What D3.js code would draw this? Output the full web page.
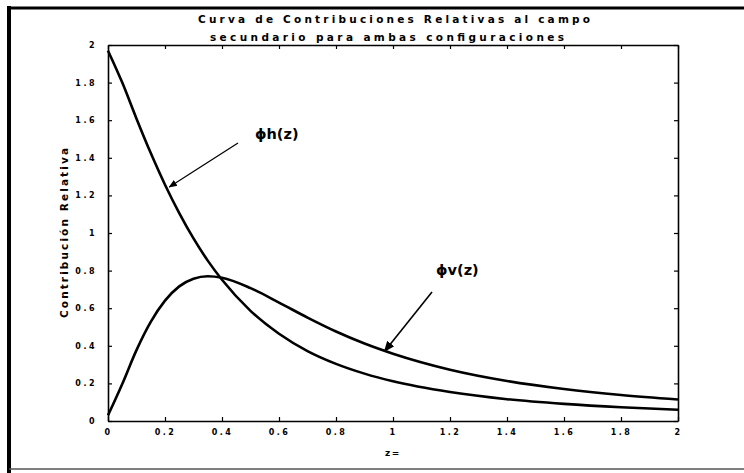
<!DOCTYPE html>
<html><head><meta charset="utf-8">
<script src="https://cdn.jsdelivr.net/npm/d3@7"></script>
<style>body{margin:0;background:#fff}</style>
</head><body>
<svg id="c" width="744" height="473"></svg>
<script>
const zValues = [0,0.05,0.1,0.15,0.2,0.25,0.3,0.35,0.4,0.5,0.6,0.7,0.8,0.9,1.0,1.2,1.4,1.6,1.8,2.0];
const phiH = [1.97,1.80,1.608,1.425,1.257,1.106,0.971,0.853,0.751,0.586,0.464,0.372,0.304,0.252,0.211,0.154,0.116,0.091,0.073,0.060];
const phiV = [0.03,0.197,0.377,0.527,0.640,0.716,0.757,0.770,0.762,0.707,0.630,0.550,0.476,0.412,0.358,0.273,0.213,0.170,0.138,0.114];
const xTicks = [0,0.2,0.4,0.6,0.8,1,1.2,1.4,1.6,1.8,2];
const yTicks = [0,0.2,0.4,0.6,0.8,1,1.2,1.4,1.6,1.8,2];
const titleLines = ["Curva de Contribuciones Relativas al campo","secundario para ambas configuraciones"];

const svg = d3.select("#c");
const L=108, R=678, T=45, B=421;
const x = d3.scaleLinear().domain([0,2]).range([L,R]);
const y = d3.scaleLinear().domain([0,2]).range([B,T]);

// outer frame (left, top, bottom)
svg.append("line").attr("x1",9).attr("y1",6).attr("x2",9).attr("y2",473).attr("stroke","#000").attr("stroke-width",4);
svg.append("line").attr("x1",7).attr("y1",8).attr("x2",744).attr("y2",8).attr("stroke","#000").attr("stroke-width",3);
svg.append("line").attr("x1",9).attr("y1",469).attr("x2",744).attr("y2",469).attr("stroke","#555").attr("stroke-width",1.5);

const fnt = "DejaVu Sans, Liberation Sans, Arial, sans-serif";
// title
const titleGeom = [{cx:394,y:23,len:392},{cx:387,y:41,len:354}];
svg.selectAll("text.title").data(titleLines).join("text").attr("class","title")
  .attr("x",(d,i)=>titleGeom[i].cx).attr("y",(d,i)=>titleGeom[i].y).attr("text-anchor","middle")
  .attr("font-family",fnt).attr("font-weight","bold").attr("font-size",10.5)
  .attr("textLength",(d,i)=>titleGeom[i].len).attr("lengthAdjust","spacing").text(d=>d);

// axes with inward ticks on all sides
const fmt = d=> d===0||d===1||d===2 ? String(d) : d3.format(".1f")(d);
const gB = svg.append("g").attr("transform",`translate(0,${B})`)
  .call(d3.axisBottom(x).tickValues(xTicks).tickSizeInner(-4).tickSizeOuter(0).tickPadding(8).tickFormat(fmt));
const gT = svg.append("g").attr("transform",`translate(0,${T})`)
  .call(d3.axisTop(x).tickValues(xTicks).tickSizeInner(-4).tickSizeOuter(0).tickFormat(""));
const gL = svg.append("g").attr("transform",`translate(${L},0)`)
  .call(d3.axisLeft(y).tickValues(yTicks).tickSizeInner(-4).tickSizeOuter(0).tickPadding(11).tickFormat(fmt));
const gR = svg.append("g").attr("transform",`translate(${R},0)`)
  .call(d3.axisRight(y).tickValues(yTicks).tickSizeInner(-4).tickSizeOuter(0).tickFormat(""));
[gB,gT,gL,gR].forEach(g=>{
  g.select(".domain").attr("stroke","#000").attr("stroke-width",1.6);
  g.selectAll(".tick line").attr("stroke","#000").attr("stroke-width",1.2);
  g.selectAll("text").attr("font-family",fnt).attr("font-weight","bold").attr("font-size",8).attr("letter-spacing",2.5).attr("fill","#000");
});

// axis labels
svg.append("text").attr("x",(L+R)/2).attr("y",456).attr("text-anchor","middle")
  .attr("font-family",fnt).attr("font-weight","bold").attr("font-size",9).attr("letter-spacing",1.5).text("z=");
svg.append("text").attr("transform",`translate(68,${(T+B)/2}) rotate(-90)`).attr("text-anchor","middle")
  .attr("font-family",fnt).attr("font-weight","bold").attr("font-size",10.5)
  .attr("textLength",170).attr("lengthAdjust","spacing").text("Contribución Relativa");

// curves
const line = (vals)=> d3.line().x((d,i)=>x(zValues[i])).y(d=>y(d)).curve(d3.curveMonotoneX)(vals);
svg.append("path").attr("d",line(phiH)).attr("fill","none").attr("stroke","#000").attr("stroke-width",2.6);
svg.append("path").attr("d",line(phiV)).attr("fill","none").attr("stroke","#000").attr("stroke-width",2.6);

// arrows & annotations
svg.append("defs").append("marker").attr("id","ah").attr("viewBox","0 0 10 10").attr("refX",9).attr("refY",5)
  .attr("markerWidth",7).attr("markerHeight",7).attr("orient","auto")
  .append("path").attr("d","M0,1 L10,5 L0,9 z").attr("fill","#000");
svg.append("line").attr("x1",238).attr("y1",143).attr("x2",x(0.215)).attr("y2",y(1.245))
  .attr("stroke","#000").attr("stroke-width",1.2).attr("marker-end","url(#ah)");
svg.append("text").attr("x",255).attr("y",139).attr("font-family",fnt).attr("font-size",14.5).attr("font-weight","bold").text("ϕh(z)");
svg.append("line").attr("x1",432).attr("y1",292).attr("x2",x(0.97)).attr("y2",y(0.37))
  .attr("stroke","#000").attr("stroke-width",1.6).attr("marker-end","url(#ah)");
svg.append("text").attr("x",436).attr("y",275).attr("font-family",fnt).attr("font-size",14.5).attr("font-weight","bold").text("ϕv(z)");
</script>
</body></html>
